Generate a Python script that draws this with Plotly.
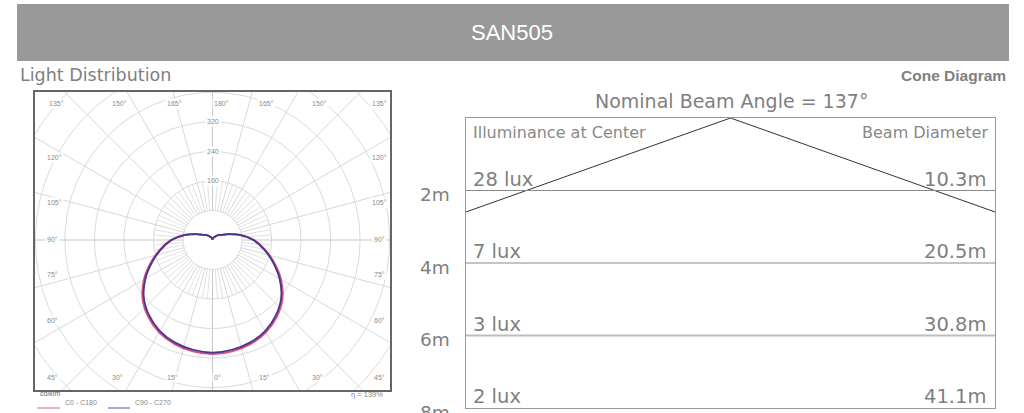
import numpy as np
import plotly.graph_objects as go

# ---------------- data ----------------
product_name = "SAN505"
gamma_deg = [0, 10, 20, 30, 40, 50, 60, 70, 80, 90, 100, 110, 120, 130, 140, 150, 160, 170, 180]
intensity_c0_c180 = [309, 306, 300, 289, 271, 247, 214, 177, 143, 112, 78, 46, 27, 21, 13, 9, 6, 3, 0]
intensity_c90_c270 = [305, 302, 296, 285, 267, 243, 210, 174, 141, 111, 77, 46, 27, 21, 13, 9, 6, 3, 0]
ring_values = [80, 160, 240, 320, 400, 480, 560, 640, 720]
ring_label_values = [160, 240, 320]
spoke_major_deg = list(range(0, 360, 15))
spoke_minor_deg = list(range(0, 360, 5))
top_angle_labels = ["135°", "150°", "165°", "180°", "165°", "150°", "135°"]
side_angle_labels = ["120°", "105°", "90°", "75°", "60°"]
bottom_angle_labels = ["45°", "30°", "15°", "0°", "15°", "30°", "45°"]
unit_label = "cd/klm"
series_names = ["C0 - C180", "C90 - C270"]
efficiency_label = "η = 139%"

beam_angle_deg = 137
mount_heights_m = [2, 4, 6, 8]
center_lux = [28, 7, 3, 2]
beam_diameter_m = [10.3, 20.5, 30.8, 41.1]

# ---------------- layout helpers ----------------
W, H = 1024, 413
def px(x):
    return x / W
def py(y):
    return 1 - y / H

GRAY_TXT = "#7f7f7f"
FONT = "DejaVu Sans"
SMALL = "Liberation Sans"

# polar panel geometry (pixels)
POL_L, POL_R, POL_T, POL_B = 35, 390, 92, 390
POL_CX, POL_CY = 212.5, 240
PX_PER_CD = 0.369

# cone panel geometry (pixels)
CONE_L, CONE_R, CONE_T, CONE_B = 466, 995, 118, 408
cone_half_width = 6.58

fig = go.Figure()

# ---------------- polar grid ----------------
theta = np.linspace(0, 2 * np.pi, 361)
for r in ring_values:
    fig.add_trace(go.Scatter(x=r * np.sin(theta), y=r * np.cos(theta), mode="lines",
                             line=dict(color="#dadada", width=1), hoverinfo="skip",
                             showlegend=False, xaxis="x", yaxis="y"))
for g in spoke_minor_deg:
    if g % 15 == 0:
        continue
    gr = np.radians(g)
    rr = np.array([ring_values[0], ring_values[1]])
    fig.add_trace(go.Scatter(x=rr * np.sin(gr), y=-rr * np.cos(gr), mode="lines",
                             line=dict(color="#e2e2e2", width=1), hoverinfo="skip",
                             showlegend=False, xaxis="x", yaxis="y"))
for g in spoke_major_deg:
    gr = np.radians(g)
    rr = np.array([ring_values[0], ring_values[-1] * 1.2])
    col = "#c8c8c8" if g % 90 == 0 else "#d8d8d8"
    fig.add_trace(go.Scatter(x=rr * np.sin(gr), y=-rr * np.cos(gr), mode="lines",
                             line=dict(color=col, width=1), hoverinfo="skip",
                             showlegend=False, xaxis="x", yaxis="y"))

# ---------------- photometric curves ----------------
def loop(values):
    g = np.radians(np.array(gamma_deg, dtype=float))
    v = np.array(values, dtype=float)
    xr = v * np.sin(g)
    yr = -v * np.cos(g)
    x = np.concatenate([xr, -xr[::-1]])
    y = np.concatenate([yr, yr[::-1]])
    return x, y

x0, y0 = loop(intensity_c0_c180)
x1, y1 = loop(intensity_c90_c270)
fig.add_trace(go.Scatter(x=x0, y=y0, mode="lines", line=dict(color="#d9507f", width=2.2, shape="spline"),
                         hoverinfo="skip", showlegend=False, xaxis="x", yaxis="y"))
fig.add_trace(go.Scatter(x=x1, y=y1, mode="lines", line=dict(color="#47378f", width=1.8, shape="spline"),
                         hoverinfo="skip", showlegend=False, xaxis="x", yaxis="y"))

# ---------------- cone diagram ----------------
half = np.radians(beam_angle_deg / 2)
edge_depth = cone_half_width / np.tan(half)
fig.add_trace(go.Scatter(x=[-cone_half_width, 0, cone_half_width], y=[edge_depth, 0, edge_depth],
                         mode="lines", line=dict(color="#333333", width=1), hoverinfo="skip",
                         showlegend=False, xaxis="x2", yaxis="y2"))
for h in mount_heights_m[:-1]:
    light = h == 6
    fig.add_trace(go.Scatter(x=[-cone_half_width, cone_half_width], y=[h, h], mode="lines",
                             line=dict(color="#bdbdbd" if light else "#8a8a8a", width=2 if light else 1),
                             hoverinfo="skip", showlegend=False, xaxis="x2", yaxis="y2"))

ann = []
# header
ann.append(dict(text=product_name, x=0.5, y=py(33), xref="paper", yref="paper", showarrow=False,
                font=dict(family="Liberation Sans", size=22, color="white"), xanchor="center", yanchor="middle"))
ann.append(dict(text="Light Distribution", x=px(18), y=py(75), xref="paper", yref="paper", showarrow=False,
                font=dict(family=FONT, size=17.5, color=GRAY_TXT), xanchor="left", yanchor="middle"))
ann.append(dict(text="<b>Cone Diagram</b>", x=px(1008), y=py(75), xref="paper", yref="paper", showarrow=False,
                font=dict(family="Liberation Sans", size=15.5, color=GRAY_TXT), xanchor="right", yanchor="middle"))
ann.append(dict(text=f"Nominal Beam Angle = {beam_angle_deg}°", x=px(731), y=py(101), xref="paper", yref="paper",
                showarrow=False, font=dict(family=FONT, size=19, color=GRAY_TXT), xanchor="center", yanchor="middle"))

# cone texts
ann.append(dict(text="Illuminance at Center", x=-cone_half_width, y=0, xref="x2", yref="y2", showarrow=False,
                xanchor="left", yanchor="top", xshift=5, yshift=-3,
                font=dict(family=FONT, size=16, color="#888888")))
ann.append(dict(text="Beam Diameter", x=cone_half_width, y=0, xref="x2", yref="y2", showarrow=False,
                xanchor="right", yanchor="top", xshift=-5, yshift=-3,
                font=dict(family=FONT, size=16, color="#888888")))
for h, lx, d in zip(mount_heights_m, center_lux, beam_diameter_m):
    ann.append(dict(text=f"{lx} lux", x=-cone_half_width, y=h, xref="x2", yref="y2", showarrow=False,
                    xanchor="left", yanchor="bottom", xshift=5, yshift=-2,
                    font=dict(family=FONT, size=19.5, color=GRAY_TXT)))
    ann.append(dict(text=f"{d}m", x=cone_half_width, y=h, xref="x2", yref="y2", showarrow=False,
                    xanchor="right", yanchor="bottom", xshift=-7, yshift=-2,
                    font=dict(family=FONT, size=19.5, color=GRAY_TXT)))
    ann.append(dict(text=f"{h}m", x=px(452), y=h, xref="paper", yref="y2", showarrow=False,
                    xanchor="right", yanchor="middle", yshift=-4,
                    font=dict(family=FONT, size=18.5, color=GRAY_TXT)))

# polar labels
small = dict(family=SMALL, size=7, color="#8a8a8a")
for v in ring_label_values:
    ann.append(dict(text=str(v), x=0, y=v, xref="x", yref="y", showarrow=False, bgcolor="white",
                    font=small, xanchor="center", yanchor="middle"))
top_x = [47, 110, 165, 212, 257, 310, 379]
for t, xx in zip(top_angle_labels, top_x):
    ann.append(dict(text=t, x=px(xx), y=py(98), xref="paper", yref="paper", showarrow=False, font=small,
                    bgcolor="white"))
side_y = [157, 202, 240, 280, 326]
for t, yy in zip(side_angle_labels, side_y):
    ann.append(dict(text=t, x=px(45), y=py(yy), xref="paper", yref="paper", showarrow=False, font=small,
                    bgcolor="white"))
    ann.append(dict(text=t, x=px(379), y=py(yy), xref="paper", yref="paper", showarrow=False, font=small,
                    bgcolor="white"))
bottom_x = [45, 110, 165, 212, 257, 310, 379]
for t, xx in zip(bottom_angle_labels, bottom_x):
    ann.append(dict(text=t, x=px(xx), y=py(383), xref="paper", yref="paper", showarrow=False, font=small,
                    bgcolor="white"))
ann.append(dict(text=unit_label, x=px(38), y=py(399), xref="paper", yref="paper", showarrow=False,
                font=dict(family=SMALL, size=7, color="#666666"), xanchor="left"))
ann.append(dict(text=series_names[0], x=px(63), y=py(408), xref="paper", yref="paper", showarrow=False,
                font=dict(family=SMALL, size=7, color="#888888"), xanchor="left"))
ann.append(dict(text=series_names[1], x=px(133), y=py(408), xref="paper", yref="paper", showarrow=False,
                font=dict(family=SMALL, size=7, color="#888888"), xanchor="left"))
ann.append(dict(text=efficiency_label, x=px(385), y=py(401), xref="paper", yref="paper", showarrow=False,
                font=dict(family=SMALL, size=7.5, color="#888888"), xanchor="right"))

shapes = [
    dict(type="rect", xref="paper", yref="paper", x0=px(17), x1=px(1009), y0=py(61), y1=py(4),
         fillcolor="#999999", line=dict(width=0), layer="below"),
    dict(type="line", xref="paper", yref="paper", x0=px(37), x1=px(60), y0=py(408), y1=py(408),
         line=dict(color="#e06080", width=1)),
    dict(type="line", xref="paper", yref="paper", x0=px(108), x1=px(130), y0=py(408), y1=py(408),
         line=dict(color="#5a50b0", width=1)),
]

fig.update_layout(
    width=W, height=H, margin=dict(l=0, r=0, t=0, b=0),
    paper_bgcolor="white", plot_bgcolor="white",
    showlegend=False, annotations=ann, shapes=shapes,
    xaxis=dict(domain=[px(POL_L), px(POL_R)],
               range=[(POL_L - POL_CX) / PX_PER_CD, (POL_R - POL_CX) / PX_PER_CD],
               showgrid=False, zeroline=False, showticklabels=False, ticks="",
               showline=True, mirror=True, linecolor="#666666", linewidth=2, fixedrange=True),
    yaxis=dict(domain=[py(POL_B), py(POL_T)],
               range=[-(POL_B - POL_CY) / PX_PER_CD, (POL_CY - POL_T) / PX_PER_CD],
               showgrid=False, zeroline=False, showticklabels=False, ticks="",
               showline=True, mirror=True, linecolor="#666666", linewidth=2, fixedrange=True),
    xaxis2=dict(domain=[px(CONE_L), px(CONE_R)], range=[-cone_half_width, cone_half_width],
                showgrid=False, zeroline=False, showticklabels=False, ticks="",
                showline=True, mirror=True, linecolor="#9a9a9a", linewidth=1, anchor="y2", fixedrange=True),
    yaxis2=dict(domain=[py(CONE_B), py(CONE_T)], range=[max(mount_heights_m), 0],
                showgrid=False, zeroline=False, showticklabels=False, ticks="",
                showline=True, mirror=True, linecolor="#9a9a9a", linewidth=1, anchor="x2", fixedrange=True),
)

fig.write_html("out.html", config={"displayModeBar": False},
               post_script="document.body.style.margin='0';document.body.style.overflow='hidden';")
